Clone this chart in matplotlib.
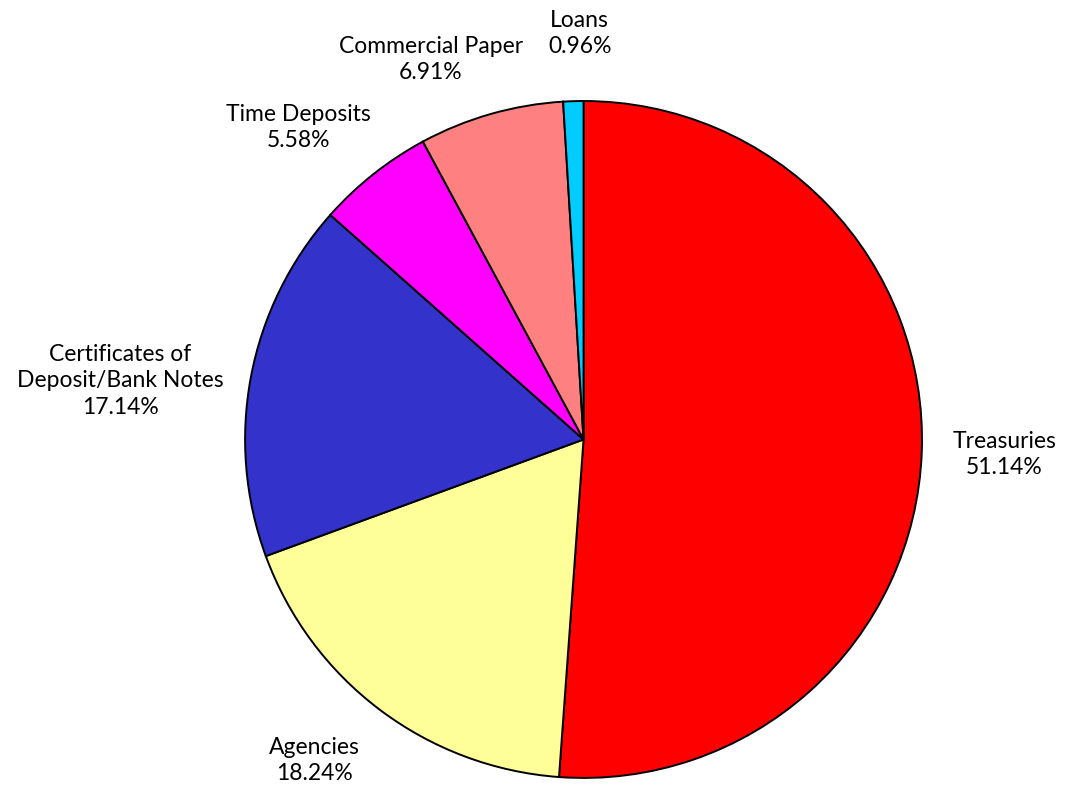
import numpy as np
import matplotlib
matplotlib.use('Agg')
from matplotlib import pyplot as plt

plt.rcParams['font.family'] = ['Lato', 'DejaVu Sans']

# 数据
names = ['Treasuries', 'Agencies', 'Certificates of\nDeposit/Bank Notes',
         'Time Deposits', 'Commercial Paper', 'Loans']
shares = [51.14, 18.24, 17.14, 5.58, 6.91, 0.96]
colors = ['#FF0000', '#FFFF99', '#3333CC', '#FF00FF', '#FF8080', '#00CCFF']

# 标签位置（半径倍数，角度微调）
label_r = [1.245, 1.238, 1.38, 1.248, 1.21, 1.20]
label_nudge = [0, -3, 3.5, 4, 6, -1.2]

fig = plt.figure(figsize=(10.67, 7.90), dpi=100)
ax = fig.add_axes([0.2297, 0.0152, 0.6344, 0.857])

wedges, _ = ax.pie(shares, colors=colors, startangle=90, counterclock=False,
                   radius=1, wedgeprops=dict(edgecolor='black', linewidth=1.4))
ax.set_xlim(-1, 1)
ax.set_ylim(-1, 1)
ax.set_aspect('equal')
ax.axis('off')

# 标签
for w, name, val, r, dn in zip(wedges, names, shares, label_r, label_nudge):
    mid = np.deg2rad((w.theta1 + w.theta2) / 2 + dn)
    ax.text(r * np.cos(mid), r * np.sin(mid), f'{name}\n{val:.2f}%',
            ha='center', va='center', fontsize=16.5, linespacing=1.3,
            clip_on=False)

fig.savefig('out.png', dpi=100)
